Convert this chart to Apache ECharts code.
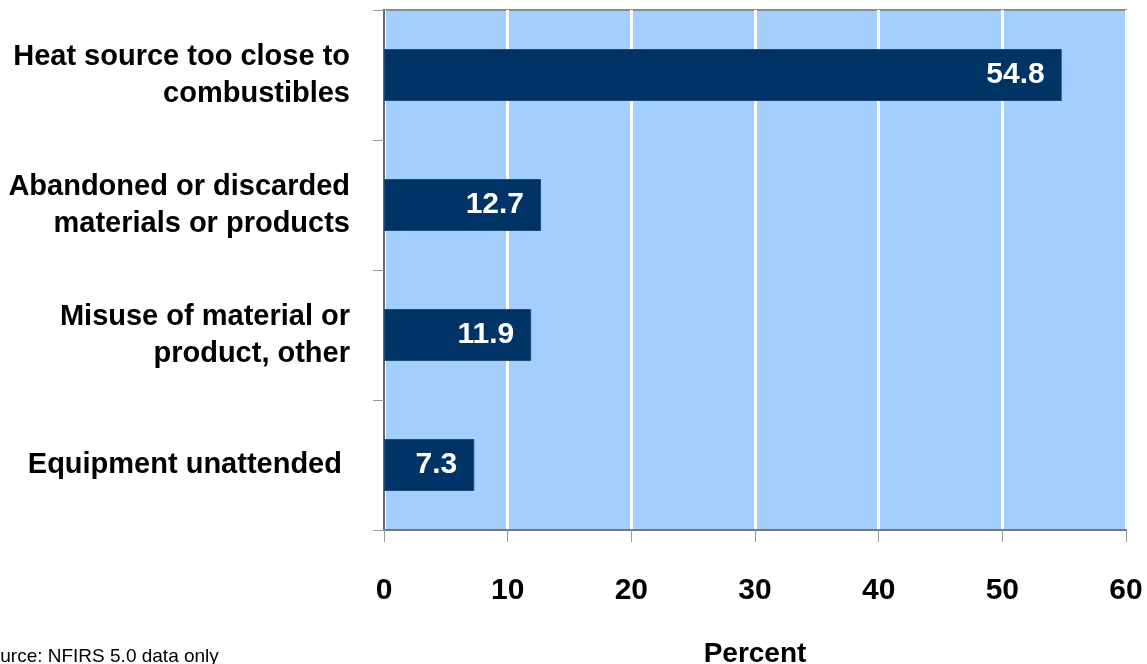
<!DOCTYPE html>
<html>
<head>
<meta charset="utf-8">
<script src="https://cdn.jsdelivr.net/npm/echarts@6/dist/echarts.min.js"></script>
<style>
  html, body { margin: 0; padding: 0; background: #fff; }
  #chart { width: 1147px; height: 664px; }
</style>
</head>
<body>
<div id="chart"></div>
<script>
// causes, top to bottom
const categories = [
  'Heat source too close to\ncombustibles',
  'Abandoned or discarded\nmaterials or products',
  'Misuse of material or\nproduct, other',
  'Equipment unattended '
];
const percents = [54.8, 12.7, 11.9, 7.3];
const xTicks = [0, 10, 20, 30, 40, 50, 60];

const font = '"Liberation Sans", Arial, sans-serif';

const myChart = echarts.init(document.getElementById('chart'));
myChart.setOption({
  animation: false,
  textStyle: { fontFamily: font },
  grid: {
    left: 384,
    right: 21,
    top: 10,
    bottom: 134,
    outerBoundsMode: 'none',
    show: true,
    backgroundColor: '#a2cffe',
    borderColor: '#8c8c8c',
    borderWidth: 2
  },
  xAxis: {
    type: 'value',
    min: xTicks[0],
    max: xTicks[xTicks.length - 1],
    interval: 10,
    name: 'Percent',
    nameLocation: 'middle',
    nameGap: 110,
    nameTextStyle: { color: '#000', fontSize: 28, fontWeight: 'bold', fontFamily: font },
    axisLine: { show: true, lineStyle: { color: '#777', width: 2 } },
    axisTick: { show: true, length: 12, lineStyle: { color: '#999', width: 1 } },
    axisLabel: { color: '#000', fontSize: 30, fontWeight: 'bold', margin: 46, fontFamily: font },
    splitLine: { show: true, lineStyle: { color: '#fff', width: 3 } }
  },
  yAxis: {
    type: 'category',
    inverse: true,
    data: categories,
    axisLine: { show: true, lineStyle: { color: '#666', width: 2 } },
    axisTick: { show: true, length: 11, lineStyle: { color: '#999', width: 1 } },
    axisLabel: {
      color: '#000', fontSize: 29, fontWeight: 'bold', margin: 34,
      lineHeight: 37, align: 'right', padding: [7, 0, 0, 0], fontFamily: font
    },
    splitLine: { show: false }
  },
  series: [
    {
      type: 'bar',
      data: percents,
      barWidth: 52,
      itemStyle: { color: '#003366', borderColor: '#1f4a78', borderWidth: 1 },
      label: {
        show: true,
        position: 'insideRight',
        distance: 17,
        color: '#fff',
        fontSize: 30,
        fontWeight: 'bold',
        fontFamily: font,
        formatter: p => p.value.toFixed(1)
      }
    }
  ],
  graphic: [
    {
      type: 'text',
      left: -23,
      top: 647,
      style: { text: 'Source: NFIRS 5.0 data only', fontSize: 19, fill: '#000', fontFamily: font }
    }
  ]
});
</script>
</body>
</html>
